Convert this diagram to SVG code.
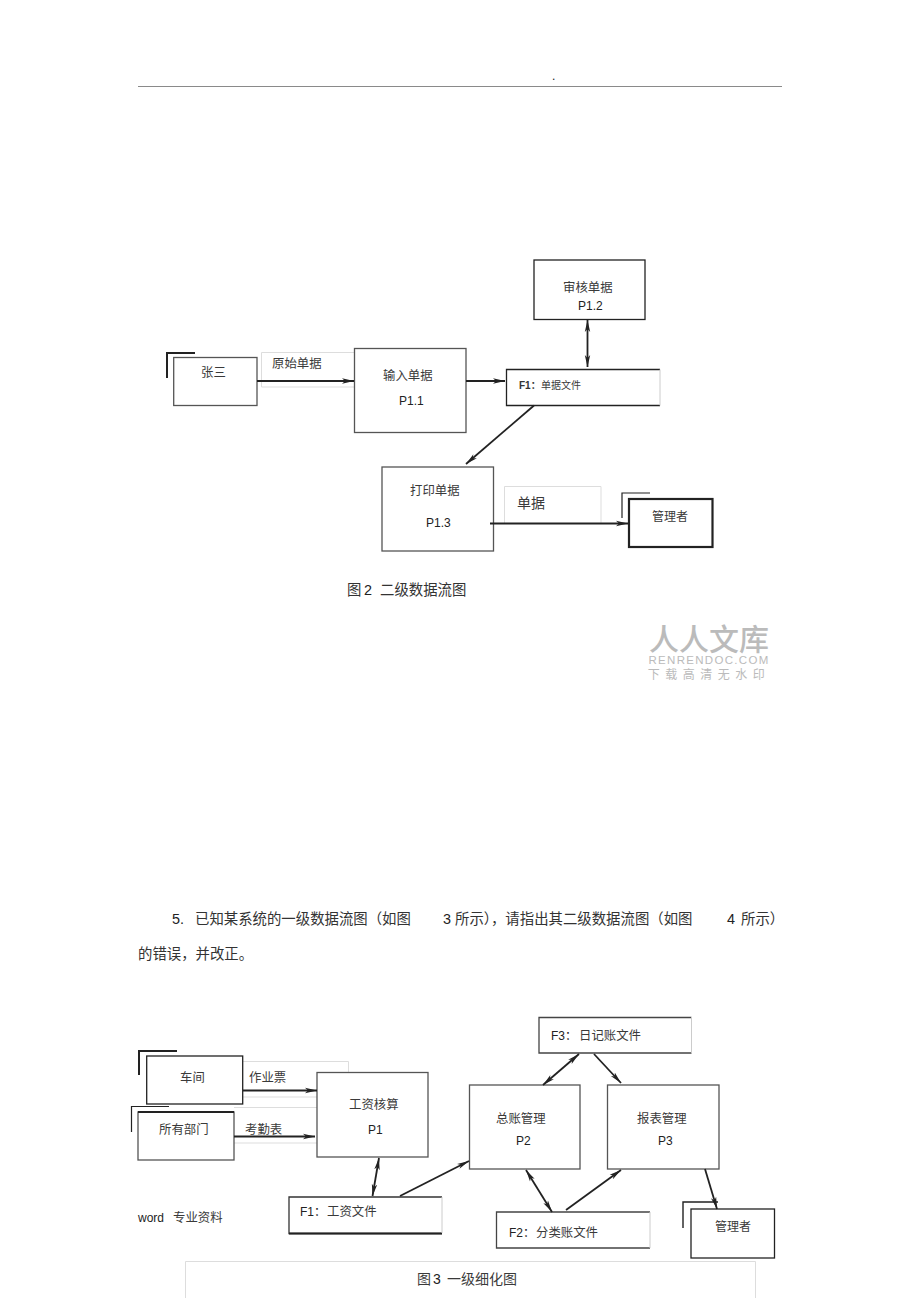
<svg xmlns="http://www.w3.org/2000/svg" width="920" height="1303" viewBox="0 0 920 1303">
<style>
text{font-family:"Liberation Sans","Noto Sans CJK SC",sans-serif;fill:#3a3a3a;font-size:12.400px}
text.l{fill:#222;font-size:12px}
.b{fill:#fff;stroke:#555;stroke-width:1.3}
.d{fill:#fff;stroke:#222;stroke-width:1.3}
.lb{fill:none;stroke:#ddd;stroke-width:1}
.c{fill:none;stroke:#222;stroke-width:1.5}
.a{fill:none;stroke:#222;stroke-width:1.8;marker-end:url(#m)}
.aa{fill:none;stroke:#222;stroke-width:1.8;marker-end:url(#m);marker-start:url(#s)}
text.body{font-size:14.400px;fill:#333}
text.num{font-size:14.400px;fill:#222}
text.wm{fill:#bbb;text-anchor:middle}
</style>
<defs>
<marker id="m" markerUnits="userSpaceOnUse" markerWidth="13" markerHeight="8" refX="12" refY="4" orient="auto"><path d="M0 1.300L12 4L0 6.700L3 4Z" fill="#222"/></marker>
<marker id="s" markerUnits="userSpaceOnUse" markerWidth="13" markerHeight="8" refX="1" refY="4" orient="auto"><path d="M13 1.300L1 4L13 6.700L10 4Z" fill="#222"/></marker>
</defs>
<rect width="920" height="1303" fill="#fff"/>
<g id="header"><line x1="138" y1="86.500" x2="782" y2="86.500" stroke="#8a8a8a" stroke-width="1"/><text x="552" y="80" class="l">.</text></g>

<g id="label-yuanshi"><path class="lb" d="M261.500 387V352.500H354M261.500 387H354"/><text x="272" y="368">原始单据</text></g>
<g id="label-danju"><path class="lb" d="M504.500 523V486.500H601V523"/><text x="517" y="508" style="font-size:14px">单据</text></g>
<g id="label-zuoye"><path class="lb" d="M243 1061.500H348.500V1072M243 1097H317"/><text x="249" y="1082">作业票</text></g>
<g id="label-kaoqin"><path class="lb" d="M234 1107.500H317M234 1143H317"/><text x="245" y="1134">考勤表</text></g>

<g id="zhangsan"><path class="c" d="M167 378V353H195" style="stroke-width:2"/><rect class="b" x="173.700" y="357.500" width="83.300" height="48"/><text x="201" y="377">张三</text></g>
<g id="p11"><rect class="b" x="354.500" y="348.500" width="111.500" height="84"/><text x="383" y="380">输入单据</text><text x="399" y="405" class="l">P1.1</text></g>
<g id="p12"><rect class="d" x="534" y="260" width="111" height="59.500"/><text x="563" y="292">审核单据</text><text x="578" y="310" class="l">P1.2</text></g>
<g id="f1a"><path d="M660 369.500H506.500V405.500H660" fill="#fff" stroke="#222" stroke-width="1.300"/><line x1="660" y1="369.500" x2="660" y2="405.500" stroke="#ccc"/><text x="519" y="389" style="font-size:10px;font-weight:bold;fill:#333">F1：</text><text x="541" y="389" style="font-size:10px">单据文件</text></g>
<g id="p13"><rect class="b" x="382" y="467" width="111.500" height="84"/><text x="410" y="495">打印单据</text><text x="426" y="527" class="l">P1.3</text></g>
<g id="guanli1"><path class="c" d="M622 518V493H650" style="stroke-width:1.200"/><rect class="d" x="629" y="499" width="83.500" height="48" style="stroke-width:2.200"/><text x="652" y="521" style="font-size:12px">管理者</text></g>

<g id="caption2"><text x="347" y="595" class="body">图</text><text x="364" y="595" class="num">2</text><text x="380" y="595" class="body">二级数据流图</text></g>

<g id="watermark">
<text x="709" y="650" class="wm" style="font-size:30px;font-weight:500">人人文库</text>
<text x="709" y="664" class="wm" style="font-size:11.500px;letter-spacing:1.300px">RENRENDOC.COM</text>
<text x="709" y="679" class="wm" style="font-size:12px;letter-spacing:5.500px">下载高清无水印</text>
</g>

<g id="para">
<text x="172" y="924" class="num">5.</text>
<text x="195" y="924" class="body">已知某系统的一级数据流图（如图</text>
<text x="443" y="924" class="num">3</text>
<text x="455" y="924" class="body">所示），请指出其二级数据流图（如图</text>
<text x="727" y="924" class="num">4</text>
<text x="741" y="924" class="body">所示）</text>
<text x="138" y="959" class="body">的错误，并改正。</text>
</g>

<g id="chejian"><path class="c" d="M139 1075V1051H177" style="stroke-width:2"/><rect class="d" x="146.700" y="1056" width="96" height="48"/><text x="180" y="1082">车间</text></g>
<g id="bumen"><path class="c" d="M131.500 1132V1106.500H169" style="stroke-width:1.200"/><rect class="b" x="138" y="1112" width="96" height="48"/><line x1="138" y1="1112" x2="234" y2="1112" stroke="#222" stroke-width="2"/><text x="159" y="1134">所有部门</text></g>
<g id="p1"><rect class="b" x="317" y="1072.500" width="111" height="84.500"/><text x="349" y="1109">工资核算</text><text x="368" y="1134" class="l">P1</text></g>
<g id="f1b"><path d="M442 1197H289V1233.500H442" fill="#fff" stroke="#333" stroke-width="1.300"/><line x1="289" y1="1233.500" x2="442" y2="1233.500" stroke="#222" stroke-width="2"/><line x1="442" y1="1197" x2="442" y2="1233" stroke="#ccc"/><text x="300" y="1216" class="l">F1：</text><text x="327" y="1216">工资文件</text></g>
<g id="f3"><path d="M691.500 1017.500H539V1053H691.500" fill="#fff" stroke="#444" stroke-width="1.300"/><line x1="691.500" y1="1017" x2="691.500" y2="1053" stroke="#ccc"/><text x="551" y="1040" class="l">F3：</text><text x="579" y="1040">日记账文件</text></g>
<g id="p2"><rect class="b" x="469.500" y="1085" width="110.500" height="84"/><text x="496" y="1123">总账管理</text><text x="516" y="1145" class="l">P2</text></g>
<g id="p3"><rect class="b" x="607.500" y="1085" width="111.500" height="84"/><text x="637" y="1123">报表管理</text><text x="658" y="1145" class="l">P3</text></g>
<g id="f2"><path d="M650 1212H496.500V1248H650" fill="#fff" stroke="#444" stroke-width="1.300"/><line x1="650" y1="1212" x2="650" y2="1248" stroke="#ccc"/><text x="509" y="1237" class="l">F2：</text><text x="536" y="1237">分类账文件</text></g>
<g id="guanli2"><path class="c" d="M683 1228V1202H718" style="stroke-width:1.400"/><rect class="d" x="691" y="1209" width="83.500" height="49"/><text x="715" y="1231" style="font-size:12px">管理者</text></g>

<g id="footer"><text x="138" y="1222" class="l">word</text><text x="173" y="1222">专业资料</text></g>
<g id="caption3"><path class="lb" d="M185.500 1298V1261.500H755.500V1298"/><text x="417" y="1284" style="font-size:14px">图</text><text x="433" y="1284" style="font-size:14px;fill:#222">3</text><text x="447" y="1284" style="font-size:14px">一级细化图</text></g>

<g id="connectors">
<line class="a" x1="257" y1="381" x2="354" y2="381" style="stroke-width:2"/>
<line class="a" x1="466" y1="381" x2="505" y2="381"/>
<line class="aa" x1="587.500" y1="320" x2="587.500" y2="367"/>
<line class="a" x1="534" y1="405.500" x2="466" y2="464"/>
<line class="a" x1="490" y1="523.500" x2="628" y2="523.500"/>
<line class="a" x1="243" y1="1090.500" x2="317" y2="1090.500" style="stroke-width:2"/>
<line class="a" x1="234" y1="1136.500" x2="315" y2="1136.500" style="stroke-width:2"/>
<line class="aa" x1="379" y1="1158" x2="372.500" y2="1196"/>
<line class="a" x1="400" y1="1196" x2="469" y2="1161"/>
<line class="aa" x1="579" y1="1054" x2="543" y2="1085"/>
<line class="a" x1="594" y1="1054" x2="621" y2="1083"/>
<line class="aa" x1="526" y1="1170" x2="552" y2="1212"/>
<line class="a" x1="566" y1="1210" x2="621" y2="1170"/>
<line class="a" x1="705" y1="1169" x2="717" y2="1209"/>
</g>
</svg>
